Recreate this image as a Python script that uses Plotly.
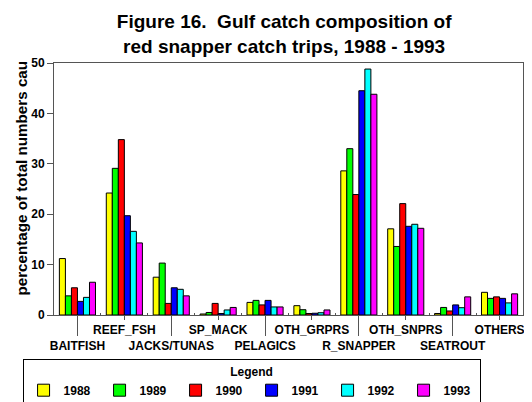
import plotly.graph_objects as go

categories = ["BAITFISH", "REEF_FSH", "JACKS/TUNAS", "SP_MACK", "PELAGICS",
              "OTH_GRPRS", "R_SNAPPER", "OTH_SNPRS", "SEATROUT", "OTHERS"]
years = ["1988", "1989", "1990", "1991", "1992", "1993"]
colors = ["#FFFF00", "#00FF00", "#FF0000", "#0000FF", "#00FFFF", "#FF00FF"]

v1988 = [11.2, 24.2, 7.5, 0.2, 2.5, 1.85, 28.6, 17.1, 0.3, 4.5]
v1989 = [3.8, 29.1, 10.3, 0.5, 2.9, 1.05, 33.0, 13.6, 1.5, 3.3]
v1990 = [5.4, 34.8, 2.3, 2.3, 2.0, 0.3, 23.9, 22.1, 0.8, 3.6]
v1991 = [2.7, 19.7, 5.4, 0.3, 2.9, 0.35, 44.5, 17.6, 2.0, 3.3]
v1992 = [3.5, 16.6, 5.1, 1.0, 1.6, 0.45, 48.8, 18.0, 1.45, 2.4]
v1993 = [6.5, 14.3, 3.8, 1.5, 1.6, 1.0, 43.8, 17.2, 3.6, 4.2]
series = [v1988, v1989, v1990, v1991, v1992, v1993]

yticks = [0, 10, 20, 30, 40, 50]
title_lines = ["Figure 16.  Gulf catch composition of", "red snapper catch trips, 1988 - 1993"]
ytitle = "percentage of total numbers cau"

FONT = "Liberation Sans, Arial, sans-serif"
xpos = list(range(len(categories)))

fig = go.Figure()
for name, vals, col in zip(years, series, colors):
    fig.add_trace(go.Bar(x=xpos, y=vals, name=name,
                         marker=dict(color=col, line=dict(color="#000000", width=1))))

# invisible trace to carry the long-tick overlay axis
fig.add_trace(go.Scatter(x=[xpos[0]], y=[None], xaxis="x2", showlegend=False,
                         hoverinfo="skip", mode="markers"))

ticktext = [("<br>" + c) if i % 2 == 0 else c for i, c in enumerate(categories)]

# page body has an 8px default margin, so the figure is sized to fit the window
fig.update_layout(
    width=524, height=394,
    margin=dict(l=46, r=9, t=55, b=87, autoexpand=False),
    paper_bgcolor="white", plot_bgcolor="white",
    font=dict(family=FONT, size=12, color="black", weight="bold"),
    barmode="group", bargap=0.23, bargroupgap=0,
    title=dict(text="<br>".join(title_lines), x=0.527, xanchor="center",
               y=0.949, yanchor="top", yref="container",
               font=dict(family=FONT, size=19, color="black", weight="bold")),
    xaxis=dict(range=[-0.5, len(categories) - 0.5], tickmode="array",
               tickvals=xpos, ticktext=ticktext, tickangle=0, ticks="outside", ticklen=4,
               tickcolor="#555555", showline=True, linecolor="#555555", linewidth=1,
               mirror=True, showgrid=False, zeroline=False, automargin=False,
               tickfont=dict(family=FONT, size=12, color="black", weight="bold"),
               minor=dict(tickmode="array", tickvals=[i + 0.5 for i in xpos[:-1]],
                          ticks="inside", ticklen=2, tickcolor="#555555")),
    xaxis2=dict(overlaying="x", range=[-0.5, len(categories) - 0.5], tickmode="array",
                tickvals=xpos[0::2], ticks="outside", ticklen=20, tickcolor="#555555",
                showticklabels=False, showline=False, showgrid=False, zeroline=False,
                side="bottom", anchor="y", automargin=False),
    yaxis=dict(range=[0, 50], tickmode="array", tickvals=yticks,
               ticks="outside", ticklen=6, tickcolor="#555555",
               showline=True, linecolor="#555555", linewidth=1, mirror=True,
               showgrid=False, zeroline=False, automargin=False,
               tickfont=dict(family=FONT, size=12, color="black", weight="bold")),
    legend=dict(orientation="h", x=-0.067, xanchor="left", y=-0.175, yanchor="top",
                bordercolor="black", borderwidth=1, bgcolor="white",
                entrywidth=31, entrywidthmode="pixels",
                title=dict(text="Legend", side="top center",
                           font=dict(family=FONT, size=12, color="black", weight="bold")),
                font=dict(family=FONT, size=12, color="black", weight="bold")),
    annotations=[dict(text=ytitle, textangle=-90, xref="paper", yref="paper",
                      x=-0.069, y=0.544, xanchor="center", yanchor="middle",
                      showarrow=False,
                      font=dict(family=FONT, size=15.2, color="black", weight="bold"))],
)

fig.write_html("out.html")
